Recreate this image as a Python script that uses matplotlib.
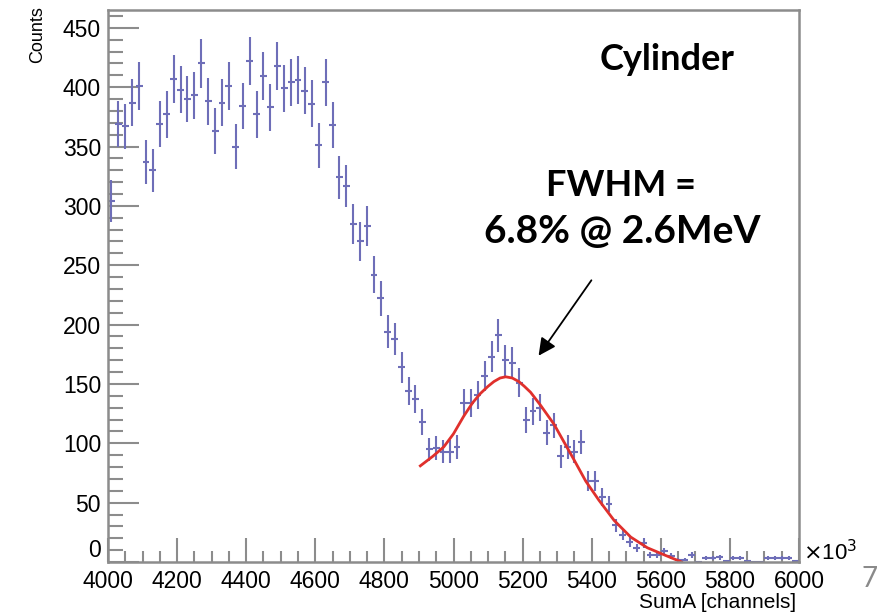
import numpy as np
import matplotlib.pyplot as plt
from matplotlib.ticker import MultipleLocator, FuncFormatter

plt.rcParams["font.family"] = ["Liberation Sans", "DejaVu Sans"]

# histogram: 20-channel bins, SumA from 4000 to 6000
bin_centers = np.arange(4010, 6000, 20)
counts = [
    304, 369, 367, 387, 401, 337, 330, 369, 377, 407,
    398, 390, 393, 420, 388, 363, 387, 401, 350, 384,
    422, 377, 409, 383, 418, 399, 404, 406, 397, 386,
    351, 404, 368, 324, 317, 285, 270, 283, 242, 222,
    194, 188, 164, 144, 137, 118, 95, 96, 93, 93,
    97, 134, 134, 141, 157, 173, 191, 170, 168, 151,
    120, 127, 130, 109, 115, 89, 97, 93, 101, 68,
    68, 55, 49, 31, 23, 17, 12, 16, 6, 6,
    9, 5, 2, 2, 6, 0, 3, 3, 4, 1,
    3, 3, 1, 0, 0, 3, 3, 3, 3, 1,
]

# fit curve
fit_x = [4904, 4940, 4972, 5000, 5030, 5055, 5078, 5100, 5117, 5135, 5151,
         5170, 5189, 5205, 5223, 5252, 5291, 5320, 5349, 5383, 5421, 5465,
         5513, 5561, 5610, 5660]
fit_y = [81, 89, 97, 108, 123, 134, 142, 148, 152, 155, 156,
         155, 152, 148, 143, 132, 116, 101, 86, 68, 52, 35,
         21, 12, 6, 0]

counts = np.array(counts, dtype=float)
errors = np.sqrt(counts)

fig = plt.figure(figsize=(8.92, 6.12), dpi=100)
ax = fig.add_axes([108 / 892, 1 - 562 / 612, 691 / 892, 552 / 612])

ax.errorbar(bin_centers, counts, yerr=errors, xerr=10, fmt="none",
            ecolor="#6e6eb8", elinewidth=1.5, capsize=0)
ax.plot(fit_x, fit_y, color="#e0302c", lw=2)

ax.set_xlim(4000, 6000)
ax.set_ylim(0, 465)

grey = "#8c8c8c"
for s in ax.spines.values():
    s.set_color(grey)
    s.set_linewidth(1.8)

ax.xaxis.set_major_locator(MultipleLocator(200))
ax.xaxis.set_minor_locator(MultipleLocator(50))
ax.yaxis.set_major_locator(MultipleLocator(50))
ax.yaxis.set_minor_locator(MultipleLocator(10))
ax.xaxis.set_major_formatter(FuncFormatter(lambda v, p: f"{v:.0f}"))
# the "0" is placed by hand a bit higher, as ROOT does
ax.yaxis.set_major_formatter(FuncFormatter(lambda v, p: "" if v == 0 else f"{v:.0f}"))
ax.tick_params(direction="in", which="both", color=grey, width=1.5,
               labelsize=16.5, top=False, right=False)
ax.tick_params(axis="y", which="major", length=22, pad=5)
ax.tick_params(axis="y", which="minor", length=11)
ax.tick_params(axis="x", which="major", length=17, pad=6)
ax.tick_params(axis="x", which="minor", length=8)

fig.text(101 / 892, 1 - 562 / 612, "0", ha="right", va="bottom",
         fontsize=16.5)

fig.text(38 / 892, 1 - 6 / 612, "Counts", rotation=90, ha="center",
         va="top", fontsize=13)
fig.text(796 / 892, 1 - 602 / 612, "SumA [channels]", ha="right",
         va="center", fontsize=15)
fig.text(803 / 892, 1 - 553 / 612, r"$\times$10$^3$", ha="left",
         va="center", fontsize=16)

fig.text(667 / 892, 1 - 60 / 612, "Cylinder", ha="center", va="center",
         fontsize=26, fontweight="bold", family="Lato")
fig.text(621 / 892, 1 - 186 / 612, "FWHM =", ha="center", va="center",
         fontsize=26, fontweight="bold", family="Lato")
fig.text(622 / 892, 1 - 232 / 612, "6.8% @ 2.6MeV", ha="center",
         va="center", fontsize=28, fontweight="bold", family="Lato")
ax.annotate("", xy=(537 / 892, 1 - 358 / 612), xycoords="figure fraction",
            xytext=(593 / 892, 1 - 278 / 612), textcoords="figure fraction",
            arrowprops=dict(arrowstyle="-|>", color="black", lw=1.3,
                            mutation_scale=26))

fig.text(870 / 892, 1 - 579 / 612, "7", ha="center", va="center",
         fontsize=20, color="#8a8a8a", family="Lato")

fig.savefig("out.png", dpi=100)
